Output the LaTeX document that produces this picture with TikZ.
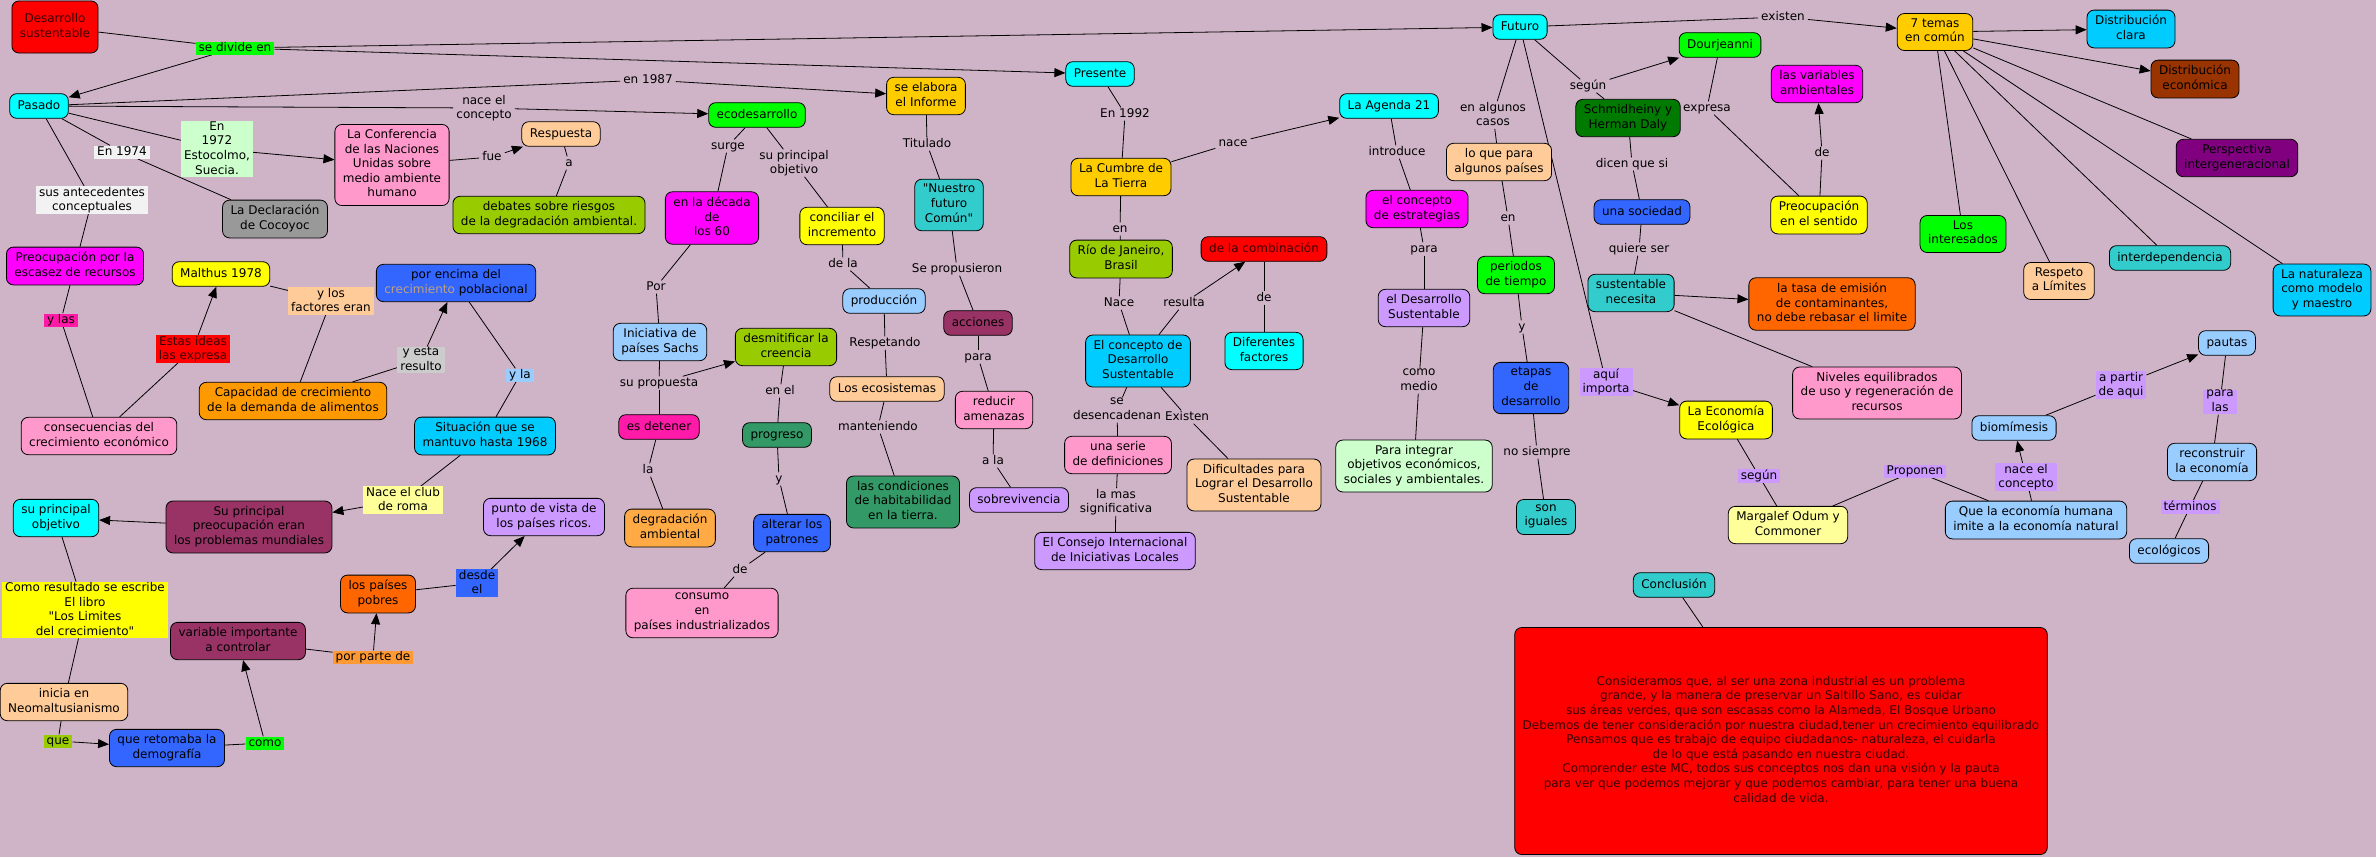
\documentclass[tikz,border=0pt]{standalone}
\usepackage{fontspec}
\setmainfont{DejaVu Sans}[Ligatures=TeXOff]
\usepackage{tikz}
\usetikzlibrary{arrows.meta, backgrounds}
\definecolor{mauve}{HTML}{CFB4C7}
\definecolor{redA}{HTML}{FF0000}
\definecolor{darkred}{HTML}{3A0000}
\definecolor{cyanA}{HTML}{00FFFF}
\definecolor{skyA}{HTML}{00CCFF}
\definecolor{magentaA}{HTML}{FF00FF}
\definecolor{pinkA}{HTML}{FF99CC}
\definecolor{hotpink}{HTML}{FF1AA8}
\definecolor{grayA}{HTML}{999999}
\definecolor{yellowA}{HTML}{FFFF00}
\definecolor{lightyellow}{HTML}{FFFF99}
\definecolor{peach}{HTML}{FFCC99}
\definecolor{orangeA}{HTML}{FF9900}
\definecolor{orangeB}{HTML}{FF6600}
\definecolor{orangeC}{HTML}{FF9933}
\definecolor{amber}{HTML}{FFAA44}
\definecolor{blueA}{HTML}{3366FF}
\definecolor{plum}{HTML}{993366}
\definecolor{lavender}{HTML}{CC99FF}
\definecolor{oliveA}{HTML}{99CC00}
\definecolor{greenA}{HTML}{00FF00}
\definecolor{darkgreen}{HTML}{339966}
\definecolor{forest}{HTML}{007A00}
\definecolor{lightgreen}{HTML}{CCFFCC}
\definecolor{gold}{HTML}{FFCC00}
\definecolor{teal}{HTML}{33CCCC}
\definecolor{lightblue}{HTML}{99CCFF}
\definecolor{brown}{HTML}{993300}
\definecolor{purpleA}{HTML}{800080}
\definecolor{paper}{HTML}{F2F2F2}
\definecolor{silver}{HTML}{CCCCCC}
\definecolor{tanword}{HTML}{C0A080}
\newcommand{\cmapfont}{\fontsize{12pt}{14.6pt}\selectfont}
\newcommand{\cstrut}{\rule[-3.6pt]{0pt}{14.6pt}}
\newcommand{\lstrut}{\rule[-2.5pt]{0pt}{12pt}}

\begin{document}
\begin{tikzpicture}[x=1pt, y=-1pt,
  concept/.style={draw=black, fill=#1, rounded corners=7pt, line width=0.8pt,
    align=center, inner xsep=8pt, inner ysep=5pt, font=\cmapfont,
    execute at begin node=\cstrut, execute at end node=\cstrut},
  lbl/.style={align=center, inner xsep=3pt, inner ysep=0.5pt, font=\cmapfont,
    execute at begin node=\lstrut, execute at end node=\lstrut},
  lblbg/.style={lbl, fill=#1},
  link/.style={draw=black, line width=0.8pt},
  arr/.style={link, -{Triangle[length=11pt,width=9pt]}}]
  \useasboundingbox (0,0) rectangle (2376,857);
  \begin{scope}[on background layer]
    \fill[mauve] (0,0) rectangle (2376,857);
  \end{scope}

  % Root
  \node[concept=redA, text=darkred, minimum width=85pt, minimum height=52pt] (ds) at (55,27)
    {Desarrollo\\sustentable};
  \node[lblbg=greenA] (ldivide) at (235,48) {se divide en};

  % Pasado
  \node[concept=cyanA] (pasado) at (39,106) {Pasado};
  \node[lbl] (l1987) at (648,80) {en 1987};
  \node[lbl] (lnace) at (484,108) {nace el\\concepto};
  \node[lblbg=lightgreen] (l1972) at (217,149) {En\\1972\\Estocolmo,\\Suecia.};
  \node[concept=pinkA] (conf) at (392,165)
    {La Conferencia\\de las Naciones\\Unidas sobre\\medio ambiente\\humano};
  \node[lblbg=paper] (l1974) at (122,152) {En 1974};
  \node[concept=grayA] (cocoyoc) at (275,219) {La Declaración\\de Cocoyoc};
  \node[lblbg=paper] (lantec) at (92,200) {sus antecedentes\\conceptuales};
  \node[concept=magentaA] (escasez) at (75,266) {Preocupación por la\\escasez de recursos};
  \node[lblbg=hotpink] (lylas) at (61,320) {y las};
  \node[concept=pinkA] (consec) at (99,436) {consecuencias del\\crecimiento económico};
  \node[lblbg=redA, text=darkred] (lideas) at (193,349) {Estas ideas\\las expresa};
  \node[concept=yellowA] (malthus) at (221,274) {Malthus 1978};
  \node[lblbg=peach] (lfact) at (331,301) {y los\\factores eran};
  \node[concept=orangeA] (capac) at (293,401)
    {Capacidad de crecimiento\\de la demanda de alimentos};
  \node[lblbg=silver] (lresult) at (421,360) {y esta\\resulto};
  \node[concept=blueA] (encima) at (456,283)
    {por encima del\\\textcolor{tanword}{crecimiento} poblacional};
  \node[lblbg=lightblue] (lyla) at (520,375) {y la};
  \node[concept=skyA] (situac) at (485,436) {Situación que se\\mantuvo hasta 1968};
  \node[lblbg=lightyellow] (lclub) at (403,500) {Nace el club\\de roma};
  \node[concept=plum] (preocup) at (249,527)
    {Su principal\\preocupación eran\\los problemas mundiales};
  \node[concept=cyanA] (objetivo) at (56,518) {su principal\\objetivo};
  \node[lblbg=yellowA] (lresultado) at (85,610)
    {Como resultado se escribe\\El libro\\"Los Limites\\del crecimiento"};
  \node[concept=peach] (neomal) at (64,702) {inicia en\\Neomaltusianismo};
  \node[lblbg=oliveA] (lque) at (58,741) {que};
  \node[concept=blueA] (retomaba) at (167,748) {que retomaba la\\demografía};
  \node[lblbg=greenA] (lcomo) at (265,743) {como};
  \node[concept=plum] (variable) at (238,641) {variable importante\\a controlar};
  \node[lblbg=orangeC] (lparte) at (373,657) {por parte de};
  \node[concept=orangeB] (pobres) at (378,594) {los países\\pobres};
  \node[lblbg=blueA] (ldesde) at (477,583) {desde\\el};
  \node[concept=lavender] (ricos) at (544,517) {punto de vista de\\los países ricos.};

  % Respuesta y ecodesarrollo
  \node[lbl] (lfue) at (492,157) {fue};
  \node[concept=peach] (respuesta) at (561,134) {Respuesta};
  \node[lbl] (la) at (569,163) {a};
  \node[concept=oliveA] (debates) at (549,215)
    {debates sobre riesgos\\de la degradación ambiental.};
  \node[concept=greenA] (ecodes) at (757,115) {ecodesarrollo};
  \node[lbl] (lsurge) at (728,146) {surge};
  \node[concept=magentaA] (decada) at (712,218) {en la década\\de\\los 60};
  \node[lbl] (lobjetivo) at (794,163) {su principal\\objetivo};
  \node[concept=yellowA] (conciliar) at (842,226) {conciliar el\\incremento};
  \node[lbl] (lpor) at (656,287) {Por};
  \node[concept=lightblue] (sachs) at (660,342) {Iniciativa de\\países Sachs};
  \node[lbl] (lpropuesta) at (659,383) {su propuesta};
  \node[concept=oliveA] (desmit) at (786,347) {desmitificar la\\creencia};
  \node[concept=hotpink] (detener) at (659,427) {es detener};
  \node[lbl] (lenel) at (780,391) {en el};
  \node[concept=darkgreen] (progreso) at (777,435) {progreso};
  \node[lbl] (lla) at (648,470) {la};
  \node[concept=amber] (degrad) at (670,528) {degradación\\ambiental};
  \node[lbl] (ly) at (779,479) {y};
  \node[concept=blueA] (alterar) at (792,533) {alterar los\\patrones};
  \node[lbl] (lde) at (740,570) {de};
  \node[concept=pinkA] (consumo) at (702,613) {consumo\\en\\países industrializados};

  % Informe
  \node[concept=gold] (informe) at (926,96) {se elabora\\el Informe};
  \node[lbl] (ltitulado) at (927,144) {Titulado};
  \node[concept=teal] (nuestro) at (949,205) {"Nuestro\\futuro\\Común"};
  \node[lbl] (ldela) at (843,264) {de la};
  \node[concept=lightblue] (produccion) at (884,301) {producción};
  \node[lbl] (lpropus) at (957,269) {Se propusieron};
  \node[concept=plum] (acciones) at (978,323) {acciones};
  \node[lbl] (lrespet) at (885,343) {Respetando};
  \node[concept=peach] (ecosist) at (887,389) {Los ecosistemas};
  \node[lbl] (lpara) at (978,357) {para};
  \node[concept=pinkA] (reducir) at (994,410) {reducir\\amenazas};
  \node[lbl] (lmant) at (878,427) {manteniendo};
  \node[concept=darkgreen] (habitab) at (903,502)
    {las condiciones\\de habitabilidad\\en la tierra.};
  \node[lbl] (lala) at (993,461) {a la};
  \node[concept=lavender] (sobrev) at (1019,500) {sobrevivencia};

  % Presente
  \node[concept=cyanA] (presente) at (1100,74) {Presente};
  \node[lbl] (l1992) at (1125,114) {En 1992};
  \node[concept=gold] (cumbre) at (1121,177) {La Cumbre de\\La Tierra};
  \node[lbl] (len) at (1120,229) {en};
  \node[concept=oliveA] (rio) at (1121,259) {Río de Janeiro,\\Brasil};
  \node[lbl] (lnace2) at (1119,303) {Nace};
  \node[concept=skyA] (conceptods) at (1138,361) {El concepto de\\Desarrollo\\Sustentable};
  \node[lbl] (lresulta) at (1184,303) {resulta};
  \node[concept=redA, text=darkred] (combin) at (1264,249) {de la combinación};
  \node[lbl] (lde2) at (1264,298) {de};
  \node[concept=cyanA] (factores) at (1264,351) {Diferentes\\factores};
  \node[lbl] (lnace3) at (1233,143) {nace};
  \node[concept=cyanA] (agenda) at (1389,106) {La Agenda 21};
  \node[lbl] (ldesenc) at (1117,410) {se\\desencadenan};
  \node[concept=pinkA] (serie) at (1118,455) {una serie\\de definiciones};
  \node[lbl] (lexisten) at (1187,417) {Existen};
  \node[concept=peach] (dificult) at (1254,485)
    {Dificultades para\\Lograr el Desarrollo\\Sustentable};
  \node[lbl] (lsignif) at (1116,502) {la mas\\significativa};
  \node[concept=lavender] (consejo) at (1115,551)
    {El Consejo Internacional\\de Iniciativas Locales};
  \node[lbl] (lintro) at (1397,152) {introduce};
  \node[concept=magentaA] (estrateg) at (1417,209) {el concepto\\de estrategias};
  \node[lbl] (lpara2) at (1424,249) {para};
  \node[concept=lavender] (dsust) at (1424,308) {el Desarrollo\\Sustentable};
  \node[lbl] (lmedio) at (1419,381) {como\\medio};
  \node[concept=lightgreen] (integrar) at (1414,466)
    {Para integrar\\objetivos económicos,\\sociales y ambientales.};

  % Futuro
  \node[concept=cyanA] (futuro) at (1520,27) {Futuro};
  \node[lbl] (lcasos) at (1493,115) {en algunos\\casos};
  \node[concept=peach] (paises) at (1499,162) {lo que para\\algunos países};
  \node[lbl] (len2) at (1508,218) {en};
  \node[concept=greenA] (periodos) at (1516,275) {periodos\\de tiempo};
  \node[lbl] (ly2) at (1522,327) {y};
  \node[concept=blueA] (etapas) at (1531,388) {etapas\\de\\desarrollo};
  \node[lbl] (lsiempre) at (1537,452) {no siempre};
  \node[concept=teal] (iguales) at (1546,517) {son\\iguales};
  \node[lblbg=lavender] (limporta) at (1606,382) {aquí\\importa};
  \node[concept=yellowA] (ecologica) at (1726,420) {La Economía\\Ecológica};
  \node[lblbg=lavender] (lsegun2) at (1759,476) {según};
  \node[concept=lightyellow] (margalef) at (1788,525) {Margalef Odum y\\Commoner};
  \node[lblbg=lavender] (lproponen) at (1915,471) {Proponen};
  \node[concept=lightblue] (imite) at (2036,520)
    {Que la economía humana\\imite a la economía natural};
  \node[lblbg=lavender] (lnace4) at (2026,477) {nace el\\concepto};
  \node[concept=lightblue] (biomim) at (2014,428) {biomímesis};
  \node[lblbg=lavender] (lapartir) at (2121,385) {a partir\\de aqui};
  \node[concept=lightblue] (pautas) at (2227,343) {pautas};
  \node[lblbg=lavender] (lparalas) at (2220,402) {para\\las};
  \node[concept=lightblue] (reconst) at (2212,462) {reconstruir\\la economía};
  \node[lblbg=lavender] (lterminos) at (2190,507) {términos};
  \node[concept=lightblue] (ecolog) at (2169,551) {ecológicos};
  \node[lbl] (lsegun) at (1588,86) {según};
  \node[concept=greenA] (dourj) at (1720,45) {Dourjeanni};
  \node[concept=forest] (schmid) at (1628,118) {Schmidheiny y\\Herman Daly};
  \node[lbl] (ldicen) at (1632,164) {dicen que si};
  \node[concept=blueA] (sociedad) at (1642,212) {una sociedad};
  \node[lbl] (lquiere) at (1639,249) {quiere ser};
  \node[concept=teal] (necesita) at (1631,293) {sustentable\\necesita};
  \node[concept=orangeB] (tasa) at (1832,304)
    {la tasa de emisión\\de contaminantes,\\no debe rebasar el limite};
  \node[concept=pinkA] (niveles) at (1877,393)
    {Niveles equilibrados\\de uso y regeneración de\\recursos};
  \node[lbl] (lexpresa) at (1707,108) {expresa};
  \node[concept=yellowA] (sentido) at (1819,215) {Preocupación\\en el sentido};
  \node[lbl] (lde3) at (1822,153) {de};
  \node[concept=magentaA] (variables) at (1817,84) {las variables\\ambientales};
  \node[lbl] (lexisten2) at (1783,17) {existen};
  \node[concept=gold] (temas) at (1935,32) {7 temas\\en común};
  \node[concept=greenA] (interes) at (1963,234) {Los\\interesados};
  \node[concept=skyA] (clara) at (2131,29) {Distribución\\clara};
  \node[concept=brown] (economica) at (2195,79) {Distribución\\económica};
  \node[concept=purpleA] (perspect) at (2237,158) {Perspectiva\\intergeneracional};
  \node[concept=peach] (respeto) at (2059,281) {Respeto\\a Límites};
  \node[concept=teal] (interdep) at (2170,258) {interdependencia};
  \node[concept=skyA] (naturaleza) at (2322,290) {La naturaleza\\como modelo\\y maestro};

  % Conclusion
  \node[concept=teal] (conclusion) at (1674,585) {Conclusión};
  \node[concept=redA, text=darkred, minimum width=532pt, minimum height=227pt] (concl) at (1781,741)
    {Consideramos que, al ser una zona industrial es un problema\\
     grande, y la manera de preservar un Saltillo Sano, es cuidar\\
     sus áreas verdes, que son escasas como la Alameda, El Bosque Urbano\\
     Debemos de tener consideración por nuestra ciudad,tener un crecimiento equilibrado\\
     Pensamos que es trabajo de equipo ciudadanos- naturaleza, el cuidarla\\
     de lo que está pasando en nuestra ciudad.\\
     Comprender este MC, todos sus conceptos nos dan una visión y la pauta\\
     para ver que podemos mejorar y que podemos cambiar, para tener una buena\\
     calidad de vida.};

  % Links
  \begin{scope}[on background layer]
  \foreach \a/\b in {ds/ldivide, pasado/l1987, pasado/lnace, pasado/l1972,
      pasado/l1974, l1974/cocoyoc, pasado/lantec, lantec/escasez, escasez/lylas,
      lylas/consec, consec/lideas, malthus/lfact, lfact/capac, capac/lresult,
      encima/lyla, lyla/situac, situac/lclub, objetivo/lresultado,
      lresultado/neomal, neomal/lque, retomaba/lcomo, variable/lparte,
      pobres/ldesde, conf/lfue, respuesta/la, la/debates, ecodes/lsurge,
      lsurge/decada, ecodes/lobjetivo, lobjetivo/conciliar, decada/lpor,
      lpor/sachs, sachs/lpropuesta, lpropuesta/detener, desmit/lenel,
      lenel/progreso, detener/lla, lla/degrad, progreso/ly, ly/alterar,
      alterar/lde, lde/consumo, conciliar/ldela, ldela/produccion,
      produccion/lrespet, lrespet/ecosist, ecosist/lmant, lmant/habitab,
      informe/ltitulado, ltitulado/nuestro, nuestro/lpropus, lpropus/acciones,
      acciones/lpara, lpara/reducir, reducir/lala, lala/sobrev,
      presente/l1992, l1992/cumbre, cumbre/len, len/rio, rio/lnace2,
      lnace2/conceptods, conceptods/lresulta, combin/lde2, lde2/factores,
      cumbre/lnace3, conceptods/ldesenc, ldesenc/serie, conceptods/lexisten,
      lexisten/dificult, serie/lsignif, lsignif/consejo, agenda/lintro,
      lintro/estrateg, estrateg/lpara2, lpara2/dsust, dsust/lmedio,
      lmedio/integrar, futuro/lcasos, lcasos/paises, paises/len2,
      len2/periodos, periodos/ly2, ly2/etapas, etapas/lsiempre,
      lsiempre/iguales, futuro/limporta, ecologica/lsegun2, lsegun2/margalef,
      margalef/lproponen, lproponen/imite, imite/lnace4, biomim/lapartir,
      pautas/lparalas, lparalas/reconst, reconst/lterminos, lterminos/ecolog,
      futuro/lsegun, lsegun/schmid, schmid/ldicen, ldicen/sociedad,
      sociedad/lquiere, lquiere/necesita, necesita/niveles, dourj/lexpresa,
      lexpresa/sentido, sentido/lde3, futuro/lexisten2, temas/perspect,
      temas/interes, temas/respeto, temas/interdep, temas/naturaleza,
      conclusion/concl}
    \draw[link] (\a) -- (\b);
  % Arrows
  \foreach \a/\b in {ldivide/pasado, ldivide/presente, ldivide/futuro,
      l1987/informe, lnace/ecodes, l1972/conf, lideas/malthus, lresult/encima,
      lclub/preocup, preocup/objetivo, lque/retomaba, lcomo/variable,
      lparte/pobres, ldesde/ricos, lfue/respuesta, lpropuesta/desmit,
      lresulta/combin, lnace3/agenda, limporta/ecologica, lnace4/biomim,
      lapartir/pautas, lsegun/dourj, necesita/tasa, lde3/variables,
      lexisten2/temas, temas/clara, temas/economica}
    \draw[arr] (\a) -- (\b);
  \end{scope}
\end{tikzpicture}
\end{document}
